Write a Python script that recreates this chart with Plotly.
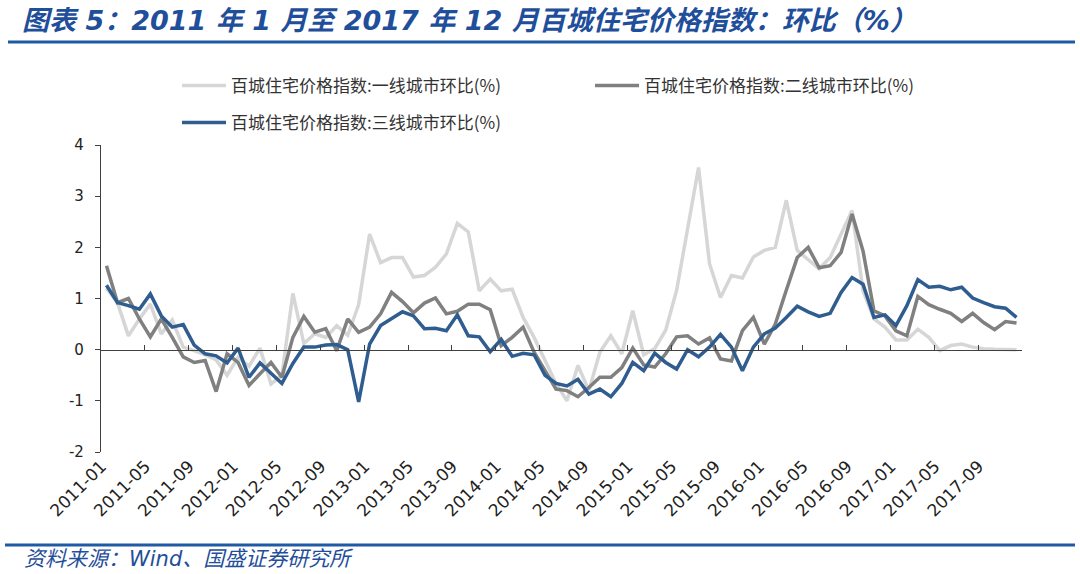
import plotly.graph_objects as go

# Categories: monthly, 2011-01 .. 2017-12
months = [f"{y}-{m:02d}" for y in range(2011, 2018) for m in range(1, 13)]

tier1 = [1.2, 0.92, 0.27, 0.6, 0.89, 0.31, 0.58, 0.05, -0.02, -0.1, -0.2, -0.5,
         -0.15, -0.32, 0.03, -0.67, -0.5, 1.1, 0.12, 0.31, 0.24, 0.47, 0.28, 0.88,
         2.26, 1.7, 1.8, 1.8, 1.42, 1.45, 1.61, 1.87, 2.47, 2.3, 1.15, 1.38,
         1.15, 1.18, 0.63, 0.24, -0.21, -0.66, -1.0, -0.31, -0.8, -0.05, 0.27, -0.08,
         0.76, -0.1, 0.02, 0.38, 1.16, 2.39, 3.56, 1.68, 1.02, 1.45, 1.4, 1.81,
         1.94, 2.0, 2.92, 1.94, 1.75, 1.58, 1.8, 2.26, 2.72, 1.15, 0.6, 0.44,
         0.19, 0.19, 0.4, 0.24, -0.02, 0.08, 0.11, 0.05, 0.02, 0.01, 0.0, 0.0]

tier2 = [1.64, 0.92, 1.0, 0.6, 0.25, 0.6, 0.24, -0.14, -0.25, -0.21, -0.82, -0.08,
         -0.25, -0.7, -0.47, -0.25, -0.54, 0.24, 0.65, 0.34, 0.41, -0.02, 0.6, 0.34,
         0.44, 0.7, 1.12, 0.94, 0.72, 0.91, 1.01, 0.7, 0.75, 0.89, 0.89, 0.78,
         0.08, 0.24, 0.44, -0.05, -0.41, -0.77, -0.8, -0.92, -0.74, -0.54, -0.54, -0.35,
         0.03, -0.3, -0.34, -0.08, 0.25, 0.27, 0.11, 0.23, -0.18, -0.22, 0.37, 0.63,
         0.11, 0.5, 1.16, 1.8, 2.0, 1.6, 1.64, 1.9, 2.65, 1.93, 0.76, 0.66,
         0.37, 0.27, 1.04, 0.88, 0.79, 0.71, 0.55, 0.71, 0.53, 0.39, 0.55, 0.52]

tier3 = [1.26, 0.92, 0.86, 0.79, 1.09, 0.66, 0.44, 0.49, 0.09, -0.08, -0.12, -0.26,
         0.03, -0.54, -0.26, -0.46, -0.66, -0.27, 0.05, 0.05, 0.09, 0.1, 0.0, -1.02,
         0.11, 0.47, 0.6, 0.74, 0.66, 0.41, 0.42, 0.37, 0.68, 0.27, 0.25, -0.04,
         0.2, -0.13, -0.07, -0.1, -0.5, -0.66, -0.71, -0.58, -0.87, -0.77, -0.92, -0.66,
         -0.25, -0.41, -0.07, -0.25, -0.38, 0.0, -0.14, 0.05, 0.3, 0.05, -0.41, 0.05,
         0.31, 0.42, 0.63, 0.85, 0.74, 0.65, 0.71, 1.12, 1.41, 1.28, 0.63, 0.68,
         0.47, 0.86, 1.37, 1.22, 1.24, 1.17, 1.22, 1.01, 0.92, 0.84, 0.81, 0.63]

y_tickvals = [-2, -1, 0, 1, 2, 3, 4]
y_ticktext = ["-2", "-1", "0", "1", "2", "3", "4"]

names = ["百城住宅价格指数:一线城市环比(%)",
         "百城住宅价格指数:二线城市环比(%)",
         "百城住宅价格指数:三线城市环比(%)"]
colors = ["#D6D6D6", "#808080", "#2F5D8F"]

title_text = "<b><i>图表 5：2011 年 1 月至 2017 年 12 月百城住宅价格指数：环比（%）</i></b>"
source_text = "<i>资料来源：Wind、国盛证券研究所</i>"

CJK = "Noto Sans CJK SC"
blue_dark = "#1F4E9A"

fig = go.Figure()
fig.add_trace(go.Scatter(x=months, y=tier1, name=names[0], mode="lines",
                         line=dict(color=colors[0], width=3.5), legend="legend"))
fig.add_trace(go.Scatter(x=months, y=tier2, name=names[1], mode="lines",
                         line=dict(color=colors[1], width=3.5), legend="legend"))
fig.add_trace(go.Scatter(x=months, y=tier3, name=names[2], mode="lines",
                         line=dict(color=colors[2], width=3.5), legend="legend2",
                         xaxis="x2"))

axis_color = "#404040"
fig.update_layout(
    width=1080, height=574,
    margin=dict(l=101, r=58, t=145, b=122),
    paper_bgcolor="white", plot_bgcolor="white",
    showlegend=True,
    xaxis=dict(type="category", range=[-0.5, 83.5], dtick=4, tickson="boundaries",
               showline=False, ticks="", showgrid=False, zeroline=False,
               tickangle=-45, ticklabelshift=-5,
               tickfont=dict(family="DejaVu Sans", size=17, color="#222")),
    xaxis2=dict(type="category", overlaying="x", matches="x", anchor="free",
                position=1/3, range=[-0.5, 83.5], dtick=4, tickson="boundaries",
                showline=True, linecolor=axis_color, linewidth=1.3,
                ticks="inside", ticklen=5, tickcolor=axis_color, tickwidth=1.3,
                showticklabels=False, showgrid=False, zeroline=False),
    yaxis=dict(range=[-2, 4], tickmode="array", tickvals=y_tickvals, ticktext=y_ticktext,
               showgrid=False, zeroline=False,
               showline=True, linecolor=axis_color, linewidth=1.3,
               ticks="outside", ticklen=5, tickcolor=axis_color, tickwidth=1.3,
               ticklabelstandoff=8,
               tickfont=dict(family="DejaVu Sans", size=15, color="#222")),
    legend=dict(orientation="h", x=(177 - 101) / 921, xanchor="left",
                y=(452 - 86) / 307, yanchor="middle",
                itemwidth=44, entrywidthmode="pixels", entrywidth=354,
                font=dict(family=CJK, size=17, color="#333"),
                bgcolor="rgba(0,0,0,0)"),
    legend2=dict(orientation="h", x=(177 - 101) / 921, xanchor="left",
                 y=(452 - 123) / 307, yanchor="middle",
                 itemwidth=44,
                 font=dict(family=CJK, size=17, color="#333"),
                 bgcolor="rgba(0,0,0,0)"),
    annotations=[
        dict(text=title_text, xref="paper", yref="paper",
             x=(20 - 101) / 921, y=(452 - 20) / 307, xanchor="left", yanchor="middle",
             showarrow=False,
             font=dict(family="DejaVu Sans, " + CJK, size=27, color=blue_dark)),
        dict(text=source_text, xref="paper", yref="paper",
             x=(22 - 101) / 921, y=(452 - 559) / 307, xanchor="left", yanchor="middle",
             showarrow=False,
             font=dict(family="DejaVu Sans, " + CJK, size=21, color=blue_dark)),
    ],
    shapes=[
        dict(type="line", xref="paper", yref="paper",
             x0=(8 - 101) / 921, x1=(1075 - 101) / 921,
             y0=(452 - 42) / 307, y1=(452 - 42) / 307,
             line=dict(color="#1F5AA6", width=3)),
        dict(type="line", xref="paper", yref="paper",
             x0=(5 - 101) / 921, x1=(1075 - 101) / 921,
             y0=(452 - 545) / 307, y1=(452 - 545) / 307,
             line=dict(color="#1F5AA6", width=3)),
    ],
)

fig.write_html("out.html",
               config={"displayModeBar": False},
               post_script="document.body.style.margin='0';document.body.style.padding='0';"
                           "document.body.style.overflow='hidden';")
